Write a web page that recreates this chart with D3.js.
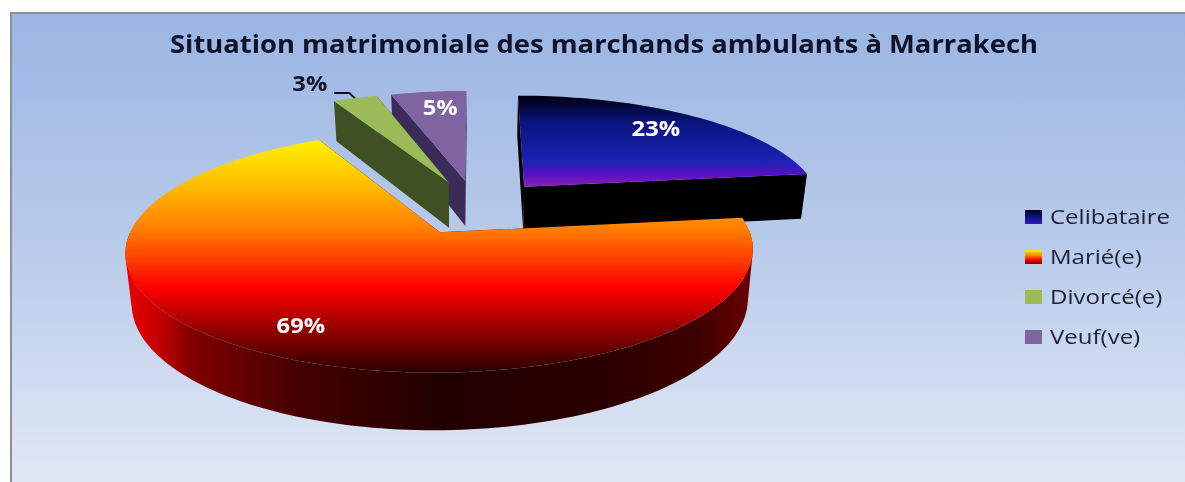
<!DOCTYPE html>
<html><head><meta charset="utf-8">
<script src="https://cdn.jsdelivr.net/npm/d3@7"></script>
<style>html,body{margin:0;padding:0;background:#fff}svg{display:block}</style>
</head><body><svg id="c" width="1185" height="482"></svg>
<script>
const titleText = "Situation matrimoniale des marchands ambulants à Marrakech";
const categories = ["Celibataire", "Marié(e)", "Divorcé(e)", "Veuf(ve)"];
const values = [23.0, 69.4, 2.8, 4.8];
const topColors = ["url(#gCel)", "url(#gMar)", "#9bbb59", "#8064a2"];
const wallColors = ["#000000", "url(#gMarSide)", "#3f5022", "#3b2b58"];
const legendColors = ["url(#lCel)", "url(#lMar)", "#9bbb59", "#8064a2"];

const labelRadii = [0.8, 0.8, 1.2, 0.8];
const labelNudge = [[-6, -1], [-5, -1], [-29, 0], [5, 0]];
const drawOrder = [3, 2, 0, 1];

const svg = d3.select("#c");
const defs = svg.append("defs");
function grad(id, x1, y1, x2, y2, stops, units) {
  const g = defs.append("linearGradient").attr("id", id)
    .attr("gradientUnits", units || "userSpaceOnUse")
    .attr("x1", x1).attr("y1", y1).attr("x2", x2).attr("y2", y2);
  stops.forEach(s => g.append("stop").attr("offset", s[0]).attr("stop-color", s[1]));
}
grad("bg", 0, 12, 0, 482, [[0, "#9ab5e3"], [0.5, "#b9cbea"], [1, "#e0e8f5"]]);
grad("gCel", 0, 96, 0, 186, [[0, "#000010"], [0.3, "#0a1480"], [0.72, "#1a22b4"], [0.88, "#5a10c4"], [1, "#8a20b0"]]);
grad("gMar", 0, 140, 0, 373, [[0, "#fff200"], [0.18, "#ffc000"], [0.38, "#ff7f00"], [0.635, "#ff0000"], [0.82, "#900000"], [1, "#2a0000"]]);
grad("gMarSide", 130, 0, 750, 0, [[0, "#e80000"], [0.05, "#c00000"], [0.1, "#800000"], [0.27, "#450000"], [0.5, "#220000"], [0.75, "#2a0000"], [0.91, "#3c0000"], [1, "#6a0000"]]);
grad("lCel", 0, 0, 0, 1, [[0, "#000010"], [0.5, "#0a1480"], [1, "#3a14c0"]], "objectBoundingBox");
grad("lMar", 0, 0, 0, 1, [[0, "#fff200"], [0.4, "#ff8000"], [0.7, "#ff0000"], [1, "#800000"]], "objectBoundingBox");
defs.append("filter").attr("id", "soft").attr("x", 0).attr("y", 0).attr("width", 1).attr("height", 1)
  .attr("filterUnits", "objectBoundingBox").attr("color-interpolation-filters", "sRGB")
  .append("feGaussianBlur").attr("stdDeviation", 0.55);

svg.append("rect").attr("x", 11).attr("y", 13).attr("width", 1185).attr("height", 482)
  .attr("fill", "url(#bg)").attr("stroke", "#8a8f99").attr("stroke-width", 2);

const root = svg.append("g").attr("filter", "url(#soft)");
root.append("rect").attr("x", 12).attr("y", 14).attr("width", 1173).attr("height", 468).attr("fill", "none");

// perspective projection of the pie plane
const R = 299.5, X0 = 476, Y0 = 207, A = 110.6, Q = 0.151, H = 47, EXPLODE = 0.25, FOOT = 0.982;
function project(x, v, lower) {
  const s = 1 / (1 + Q * v);
  const k = lower ? FOOT : 1;
  return [X0 + (x * R * s) * k, Y0 - A * v * s + (lower ? H * s : 0)];
}
const arcs = d3.pie().sort(null).value(d => d)(values);
function pt(d, a, r, lower) {
  const m = (d.startAngle + d.endAngle) / 2;
  return project(Math.sin(a) * r + Math.sin(m) * EXPLODE, Math.cos(a) * r + Math.cos(m) * EXPLODE, lower);
}
const line = d3.line();
function rimAngles(d) {
  const n = Math.max(4, Math.ceil((d.endAngle - d.startAngle) * 40));
  return d3.range(n + 1).map(i => d.startAngle + (d.endAngle - d.startAngle) * i / n);
}
// all facets wound the same way, so overlapping ones never cancel out
function wound(poly) {
  return d3.polygonArea(poly) < 0 ? poly.slice().reverse() : poly;
}
const g = root.append("g");
drawOrder.forEach(i => {
  const d = arcs[i];
  const as = rimAngles(d);
  // cut faces
  [d.startAngle, d.endAngle].forEach(a => {
    g.append("path").attr("d", line([pt(d, a, 0, false), pt(d, a, 1, false), pt(d, a, 1, true), pt(d, a, 0, true)]) + "Z")
      .attr("fill", wallColors[i]);
  });
  // outer wall: one facet per rim step facing the viewer, merged into one path
  const wall = d3.pairs(as)
    .filter(([a, b]) => Math.cos((a + b) / 2) <= 0.02)
    .map(([a, b]) => line(wound([pt(d, a, 1, false), pt(d, b, 1, false), pt(d, b, 1, true), pt(d, a, 1, true)])) + "Z")
    .join("");
  if (wall) g.append("path").attr("d", wall).attr("fill", wallColors[i]);
  g.append("path").attr("d", line([pt(d, 0, 0, false)].concat(as.map(a => pt(d, a, 1, false)))) + "Z").attr("fill", topColors[i]);
});

const font = "'Open Sans', sans-serif";
function stretch(sel, factor) {
  sel.each(function () {
    const w = this.getComputedTextLength();
    d3.select(this).attr("textLength", w * factor).attr("lengthAdjust", "spacingAndGlyphs");
  });
}
// value labels
arcs.forEach((d, i) => {
  const m = (d.startAngle + d.endAngle) / 2;
  const p = pt(d, m, labelRadii[i], false);
  const inside = labelRadii[i] < 1;
  if (!inside) {
    const a = pt(d, m, 1, false), b = pt(d, m, 1.07, false);
    g.append("path").attr("d", line([a, b, [b[0] - 15, b[1]]])).attr("fill", "none").attr("stroke", "#10101c").attr("stroke-width", 2);
  }
  const t = root.append("text").attr("x", p[0] + labelNudge[i][0]).attr("y", p[1] + labelNudge[i][1]).attr("dy", "0.36em")
    .attr("text-anchor", "middle").attr("font-family", font).attr("font-weight", 700).attr("font-size", 21)
    .attr("fill", inside ? "#fff" : "#14142a").text(d3.format(".0f")(values[i]) + "%");
  stretch(t, 1.13);
});

root.append("text").attr("x", 604).attr("y", 53).attr("text-anchor", "middle")
  .attr("font-family", font).attr("font-weight", 700).attr("font-size", 25)
  .attr("textLength", 868).attr("lengthAdjust", "spacingAndGlyphs")
  .attr("fill", "#10122a").text(titleText);

const legendY = d3.scalePoint().domain(categories).range([217, 337]);
const lg = root.append("g").selectAll("g").data(categories).join("g")
  .attr("transform", d => `translate(1025,${legendY(d)})`);
lg.append("rect").attr("y", -7).attr("width", 17).attr("height", 14).attr("fill", (d, i) => legendColors[i]);
lg.append("text").attr("x", 25).attr("dy", "0.35em").attr("font-family", font).attr("font-size", 20)
  .attr("fill", "#1c2033").text(d => d).call(stretch, 1.2);
</script></body></html>
